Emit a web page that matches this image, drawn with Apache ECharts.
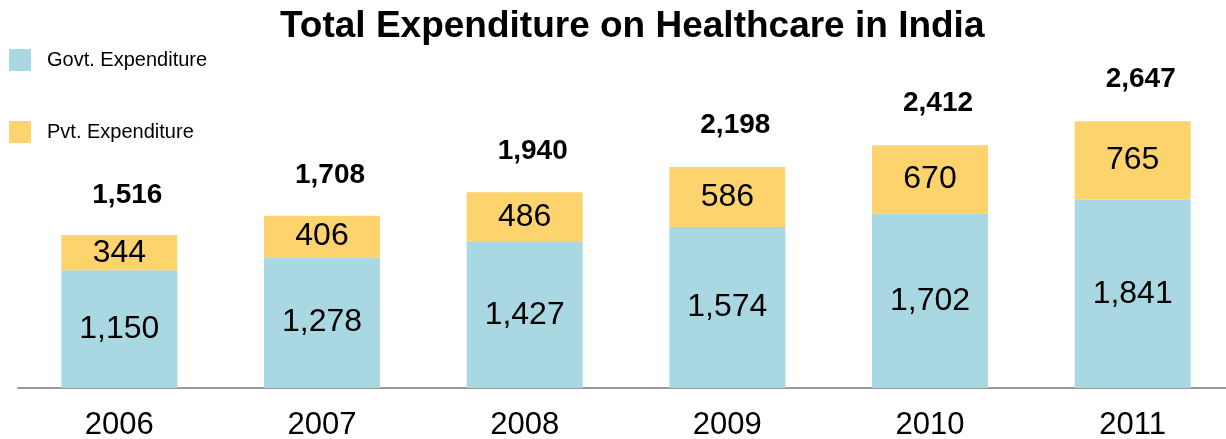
<!DOCTYPE html>
<html>
<head>
<meta charset="utf-8">
<script src="https://cdn.jsdelivr.net/npm/echarts@6/dist/echarts.min.js"></script>
<style>
  html, body { margin: 0; padding: 0; background: #fff; }
  #container { width: 1226px; height: 439px; }
</style>
</head>
<body>
<div id="container"></div>
<script>
(function () {
    var years = ['2006', '2007', '2008', '2009', '2010', '2011'];
    var govtSpend = [1150, 1278, 1427, 1574, 1702, 1841];
    var pvtSpend = [344, 406, 486, 586, 670, 765];
    var totalSpend = [1516, 1708, 1940, 2198, 2412, 2647];

    var font = '"Liberation Sans", Arial, sans-serif';
    var myChart = echarts.init(document.getElementById('container'));

    function fmt(v) {
        return v.toLocaleString('en-US');
    }

    var option = {
        animation: false,
        title: {
            text: 'Total Expenditure on Healthcare in India',
            left: 275,
            top: 3,
            textStyle: { fontFamily: font, fontSize: 37, fontWeight: 'bold', color: '#000' }
        },
        legend: {
            orient: 'vertical',
            left: 9,
            top: 49,
            padding: 0,
            itemWidth: 22,
            itemHeight: 22,
            itemGap: 50,
            icon: 'rect',
            data: ['Govt. Expenditure', 'Pvt. Expenditure'],
            textStyle: { fontFamily: font, fontSize: 20, color: '#000', padding: [0, 0, 0, 11] }
        },
        // grid runs a bit past the right edge, like the original
        grid: { left: 18, right: -8, top: 81, bottom: 51, outerBoundsMode: 'none', containLabel: false },
        xAxis: {
            type: 'category',
            data: years,
            axisLine: { lineStyle: { color: '#999', width: 2 } },
            axisTick: { show: false },
            axisLabel: { fontFamily: font, fontSize: 31, color: '#000', margin: 22 }
        },
        yAxis: { type: 'value', min: 0, max: 3000, show: false, splitLine: { show: false } },
        series: [
            {
                name: 'Govt. Expenditure',
                type: 'bar',
                stack: 'total',
                barWidth: 116,
                data: govtSpend,
                itemStyle: { color: '#AAD8E2' },
                label: {
                    show: true, position: 'inside',
                    fontFamily: font, fontSize: 32, color: '#000',
                    formatter: function (p) { return fmt(p.value); }
                }
            },
            {
                name: 'Pvt. Expenditure',
                type: 'bar',
                stack: 'total',
                barWidth: 116,
                data: pvtSpend,
                itemStyle: { color: '#FDD36E' },
                label: {
                    show: true, position: 'inside',
                    fontFamily: font, fontSize: 32, color: '#000',
                    formatter: function (p) { return fmt(p.value); }
                }
            },
            {
                name: 'Total',
                type: 'scatter',
                symbolSize: 0,
                data: totalSpend,
                silent: true,
                itemStyle: { opacity: 1 },
                label: {
                    show: true, position: 'top', distance: 24, offset: [8, 0],
                    fontFamily: font, fontSize: 28, fontWeight: 'bold', color: '#000',
                    formatter: function (p) { return fmt(p.value); }
                }
            }
        ]
    };

    myChart.setOption(option);
})();
</script>
</body>
</html>
